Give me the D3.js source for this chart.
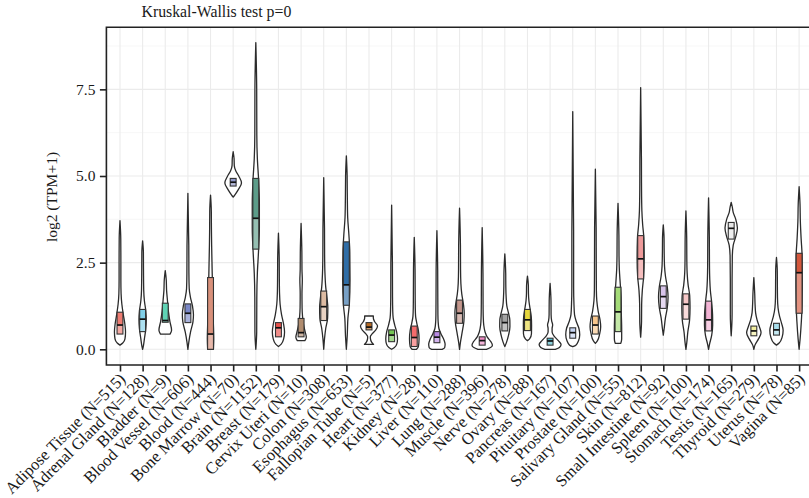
<!DOCTYPE html>
<html><head><meta charset="utf-8">
<script src="https://cdn.jsdelivr.net/npm/d3@7"></script>
<style>
body{margin:0;background:#fff}
svg{display:block}
text{font-family:"Liberation Serif","Times New Roman",serif;fill:#1a1a1a}
</style></head>
<body><svg id="chart" width="809" height="498"></svg>
<script>
// ---------------- data ----------------
const tissues = ["Adipose Tissue","Adrenal Gland","Bladder","Blood Vessel","Blood","Bone Marrow","Brain","Breast","Cervix Uteri","Colon","Esophagus","Fallopian Tube","Heart","Kidney","Liver","Lung","Muscle","Nerve","Ovary","Pancreas","Pituitary","Prostate","Salivary Gland","Skin","Small Intestine","Spleen","Stomach","Testis","Thyroid","Uterus","Vagina"];
const sampleN = [515,128,9,606,444,70,1152,179,10,308,653,5,377,28,110,288,396,278,88,167,107,100,55,812,92,100,174,165,279,78,85];
const q1s     = [0.44,0.51,0.78,0.77,0.00,4.71,2.89,0.36,0.36,0.83,1.27,0.56,0.22,0.08,0.19,0.75,0.12,0.53,0.54,0.12,0.32,0.44,0.51,2.03,1.18,0.87,0.53,3.18,0.39,0.41,1.04];
const medians = [0.70,0.87,0.83,1.04,0.44,4.82,3.78,0.62,0.48,1.23,1.86,0.64,0.41,0.34,0.35,1.04,0.25,0.77,0.85,0.24,0.48,0.70,1.08,2.61,1.52,1.30,0.85,3.49,0.53,0.56,2.21];
const q3s     = [1.07,1.15,1.33,1.31,2.07,4.93,4.93,0.77,0.89,1.68,3.10,0.77,0.56,0.67,0.51,1.42,0.36,1.01,1.15,0.32,0.62,0.96,1.79,3.28,1.83,1.60,1.39,3.66,0.67,0.75,2.77];
// violin outlines: [log2(TPM+1), relative density]
const densities = [
 [[0.12,0],[0.18,.25],[0.3,.45],[0.5,.5],[0.75,.43],[1.0,.3],[1.3,.17],[1.6,.1],[2.0,.08],[2.5,.08],[3.2,.07],[3.71,0]],
 [[0,0],[0.1,.07],[0.3,.16],[0.6,.29],[0.85,.33],[1.1,.29],[1.4,.16],[1.7,.1],[2.2,.08],[2.8,.07],[3.13,0]],
 [[0.44,.43],[0.55,.57],[0.8,.42],[1.1,.28],[1.4,.2],[1.7,.12],[2.0,.09],[2.27,0]],
 [[0,0],[0.2,.08],[0.5,.24],[0.8,.46],[1.0,.5],[1.25,.41],[1.5,.23],[1.75,.12],[2.2,.09],[3,.08],[4.5,0]],
 [[0,.26],[0.3,.29],[0.8,.25],[1.5,.2],[2.2,.15],[3,.1],[3.5,.08],[4.0,.07],[4.45,0]],
 [[4.39,0],[4.45,.14],[4.6,.45],[4.8,.75],[5.0,.5],[5.15,.23],[5.3,.1],[5.5,.08],[5.7,0]],
 [[0,0],[0.5,.08],[1.5,.09],[2.2,.14],[2.8,.24],[3.5,.32],[4.2,.32],[4.9,.25],[5.5,.14],[6.2,.09],[7.5,.08],[8.85,0]],
 [[0.08,0],[0.15,.25],[0.3,.47],[0.5,.55],[0.75,.45],[1.0,.28],[1.3,.15],[1.6,.1],[2.0,.08],[2.6,.07],[3.35,0]],
 [[0.25,.34],[0.35,.47],[0.5,.37],[0.7,.23],[0.95,.13],[1.2,.09],[1.6,.08],[2.0,.11],[2.3,.08],[2.8,.07],[3.63,0]],
 [[0,0],[0.3,.07],[0.6,.18],[0.9,.35],[1.2,.37],[1.5,.29],[1.8,.18],[2.2,.11],[2.7,.08],[3.5,.07],[4.95,0]],
 [[0,0],[0.4,.08],[0.9,.14],[1.3,.27],[2.0,.33],[2.8,.31],[3.3,.23],[3.8,.12],[4.3,.09],[5.0,.07],[5.58,0]],
 [[0.14,.41],[0.2,.25],[0.3,.13],[0.36,.12],[0.45,.3],[0.55,.6],[0.67,.77],[0.8,.5],[0.9,.39],[0.96,.39]],
 [[0,0],[0.05,.25],[0.15,.46],[0.3,.53],[0.5,.45],[0.7,.28],[0.9,.14],[1.1,.1],[1.5,.08],[2.5,.07],[4.16,0]],
 [[0,.2],[0.08,.37],[0.3,.43],[0.55,.37],[0.75,.23],[0.95,.12],[1.2,.09],[1.6,.08],[2.3,.07],[3.23,0]],
 [[0,.47],[0.05,.7],[0.15,.74],[0.3,.6],[0.45,.36],[0.6,.18],[0.8,.11],[1.0,.09],[1.5,.08],[2.3,.07],[3.42,0]],
 [[0,0],[0.2,.08],[0.5,.24],[0.8,.39],[1.05,.42],[1.3,.35],[1.6,.2],[1.9,.12],[2.3,.09],[3,.08],[4.07,0]],
 [[0,.38],[0.05,.75],[0.12,.92],[0.22,.78],[0.35,.46],[0.5,.26],[0.7,.14],[0.9,.1],[1.3,.08],[2.2,.07],[3.51,0]],
 [[0.08,0],[0.2,.15],[0.4,.33],[0.65,.46],[0.85,.45],[1.05,.33],[1.25,.18],[1.5,.12],[1.8,.09],[2.2,.08],[2.75,0]],
 [[0.25,0],[0.3,.19],[0.45,.36],[0.7,.37],[0.95,.34],[1.2,.22],[1.4,.13],[1.6,.09],[1.85,.08],[2.11,0]],
 [[0,.47],[0.05,.84],[0.14,.99],[0.25,.74],[0.38,.36],[0.5,.18],[0.6,.18],[0.7,.23],[0.82,.14],[1.0,.09],[1.4,.08],[1.9,0]],
 [[0.08,0],[0.12,.28],[0.25,.52],[0.42,.63],[0.6,.56],[0.8,.32],[1.0,.16],[1.3,.11],[1.8,.08],[3,.08],[6.86,0]],
 [[0.17,0],[0.25,.19],[0.45,.39],[0.65,.48],[0.85,.42],[1.1,.25],[1.4,.13],[1.7,.09],[2.3,.08],[3.5,.07],[5.2,0]],
 [[0.17,.25],[0.3,.33],[0.6,.33],[1.0,.3],[1.5,.28],[1.9,.2],[2.3,.12],[2.7,.09],[3.3,.08],[4.21,0]],
 [[0.35,0],[0.8,.08],[1.3,.09],[1.7,.15],[2.1,.27],[2.6,.32],[3.2,.29],[3.6,.18],[4.0,.11],[4.6,.08],[5.5,.07],[7.55,0]],
 [[0.41,0],[0.6,.08],[0.9,.19],[1.2,.36],[1.5,.43],[1.8,.36],[2.1,.2],[2.4,.11],[2.8,.08],[3.2,.07],[3.59,0]],
 [[0,0],[0.2,.08],[0.5,.17],[0.85,.33],[1.2,.37],[1.55,.34],[1.85,.2],[2.2,.11],[2.6,.08],[3.2,.07],[3.99,0]],
 [[0,0],[0.15,.09],[0.4,.28],[0.7,.37],[1.0,.36],[1.35,.28],[1.7,.16],[2.0,.11],[2.5,.08],[3.2,.07],[4.37,0]],
 [[0.39,0],[1.0,.08],[2.0,.08],[2.7,.1],[3.0,.18],[3.25,.41],[3.5,.56],[3.75,.41],[3.95,.18],[4.1,.1],[4.24,0]],
 [[0,0],[0.12,.1],[0.3,.42],[0.48,.65],[0.65,.5],[0.85,.29],[1.05,.16],[1.3,.11],[1.6,.08],[2.07,0]],
 [[0.12,0],[0.18,.24],[0.35,.51],[0.55,.6],[0.75,.46],[0.95,.28],[1.2,.14],[1.5,.09],[1.9,.08],[2.3,.07],[2.65,0]],
 [[0,0],[0.3,.09],[0.8,.2],[1.3,.27],[2.0,.29],[2.7,.27],[3.2,.18],[3.7,.11],[4.2,.08],[4.69,0]]
];
const colors = ["#EE7C72","#80CFE8","#5FD3B5","#7A88C8","#D8907A","#8F97C9","#5C9C89","#E8504A","#B08C6F","#DDBBA2","#2F6DA6","#B86A22","#74C553","#F46C6C","#B98AE3","#C3968C","#EE8CC4","#A3A3A3","#E5D63E","#4DB6C8","#C6D4F2","#F8C68C","#A4DB78","#EE9A9A","#D8C4EA","#F6C7C7","#F2B3D4","#E6E6E6","#F3EFA0","#A8DEEC","#D4573C"];
const yTicks = [0, 2.5, 5, 7.5];
const yMinor = [1.25, 3.75, 6.25, 8.75];
const titleText = "Kruskal-Wallis test p=0";
const yTitle = "log2 (TPM+1)";

// ---------------- layout ----------------
const svg = d3.select("#chart");
const W = 809, H = 498;
const panel = {left: 106.4, right: 812.7, top: 27.3, bottom: 365};
svg.append("rect").attr("width", W).attr("height", H).attr("fill", "#fff");

const labels = tissues.map((t, i) => `${t} (N=${sampleN[i]})`);
const x = d3.scalePoint().domain(labels).range([panel.left, panel.right]).padding(0.6);
const y = d3.scaleLinear().domain([-0.453, 9.29]).range([panel.bottom, panel.top]);
const w = d3.scaleLinear().domain([0, 1]).range([0, x.step() * 0.49]);
const boxHalf = x.step() * 0.13;

// grid
const g = svg.append("g");
g.selectAll(".ymin").data(yMinor).join("line")
  .attr("x1", panel.left).attr("x2", panel.right)
  .attr("y1", d => y(d)).attr("y2", d => y(d))
  .attr("stroke", "#f3f3f3").attr("stroke-width", 0.7);
g.selectAll(".ymaj").data(yTicks).join("line")
  .attr("x1", panel.left).attr("x2", panel.right)
  .attr("y1", d => y(d)).attr("y2", d => y(d))
  .attr("stroke", "#ebebeb").attr("stroke-width", 1.1);
g.selectAll(".xmaj").data(labels).join("line")
  .attr("x1", d => x(d)).attr("x2", d => x(d))
  .attr("y1", panel.top).attr("y2", panel.bottom)
  .attr("stroke", "#ebebeb").attr("stroke-width", 1.1);

// violins
const area = d3.area().curve(d3.curveMonotoneY);
const vg = svg.append("g");
labels.forEach((lab, i) => {
  const cx = x(lab);
  area.y(d => y(d[0])).x0(d => cx - w(d[1])).x1(d => cx + w(d[1]));
  vg.append("path").attr("d", area(densities[i]))
    .attr("fill", "#fff").attr("stroke", "#2b2b2b").attr("stroke-width", 1.3)
    .attr("stroke-linejoin", "round");
});

// boxes
const bg = svg.append("g");
labels.forEach((lab, i) => {
  const cx = x(lab);
  const c = colors[i];
  const light = d3.interpolateRgb(c, "#ffffff")(0.35);
  bg.append("rect").attr("x", cx - boxHalf).attr("width", boxHalf * 2)
    .attr("y", y(medians[i])).attr("height", Math.max(y(q1s[i]) - y(medians[i]), 0.5))
    .attr("fill", light);
  bg.append("rect").attr("x", cx - boxHalf).attr("width", boxHalf * 2)
    .attr("y", y(q3s[i])).attr("height", Math.max(y(medians[i]) - y(q3s[i]), 0.5))
    .attr("fill", c);
  bg.append("rect").attr("x", cx - boxHalf).attr("width", boxHalf * 2)
    .attr("y", y(q3s[i])).attr("height", Math.max(y(q1s[i]) - y(q3s[i]), 1))
    .attr("fill", "none").attr("stroke", "#333").attr("stroke-width", 1.1);
  bg.append("line").attr("x1", cx - boxHalf).attr("x2", cx + boxHalf)
    .attr("y1", y(medians[i])).attr("y2", y(medians[i]))
    .attr("stroke", "#111").attr("stroke-width", 1.7);
});

// panel border (top, left, bottom)
svg.append("path")
  .attr("d", `M${panel.right},${panel.top}H${panel.left}V${panel.bottom}H${panel.right}`)
  .attr("fill", "none").attr("stroke", "#222").attr("stroke-width", 1.6);

// axes
const yAxis = svg.append("g").attr("transform", `translate(${panel.left},0)`)
  .call(d3.axisLeft(y).tickValues(yTicks).tickFormat(d3.format(".1f")).tickSize(6.5).tickPadding(4.5));
yAxis.select(".domain").remove();
yAxis.selectAll(".tick line").attr("stroke", "#222").attr("stroke-width", 1.6);
yAxis.selectAll(".tick text").attr("font-size", "15.5px").attr("fill", "#333")
  .attr("font-family", "Liberation Serif, serif");

const xAxis = svg.append("g").attr("transform", `translate(0,${panel.bottom})`)
  .call(d3.axisBottom(x).tickSize(6.5).tickPadding(0));
xAxis.select(".domain").remove();
xAxis.selectAll(".tick line").attr("stroke", "#222").attr("stroke-width", 1.6);
xAxis.selectAll(".tick text")
  .attr("font-size", "16.5px").attr("fill", "#222")
  .attr("font-family", "Liberation Serif, serif")
  .attr("text-anchor", "end")
  .attr("dy", null).attr("y", null)
  .attr("transform", "translate(6,15) rotate(-45)");

// titles
svg.append("text").attr("x", 141.5).attr("y", 16.5)
  .attr("font-size", "15.8px").attr("fill", "#222").text(titleText);
svg.append("text").attr("transform", "translate(57,197) rotate(-90)")
  .attr("text-anchor", "middle").attr("font-size", "15.5px").attr("fill", "#222").text(yTitle);
</script></body></html>
